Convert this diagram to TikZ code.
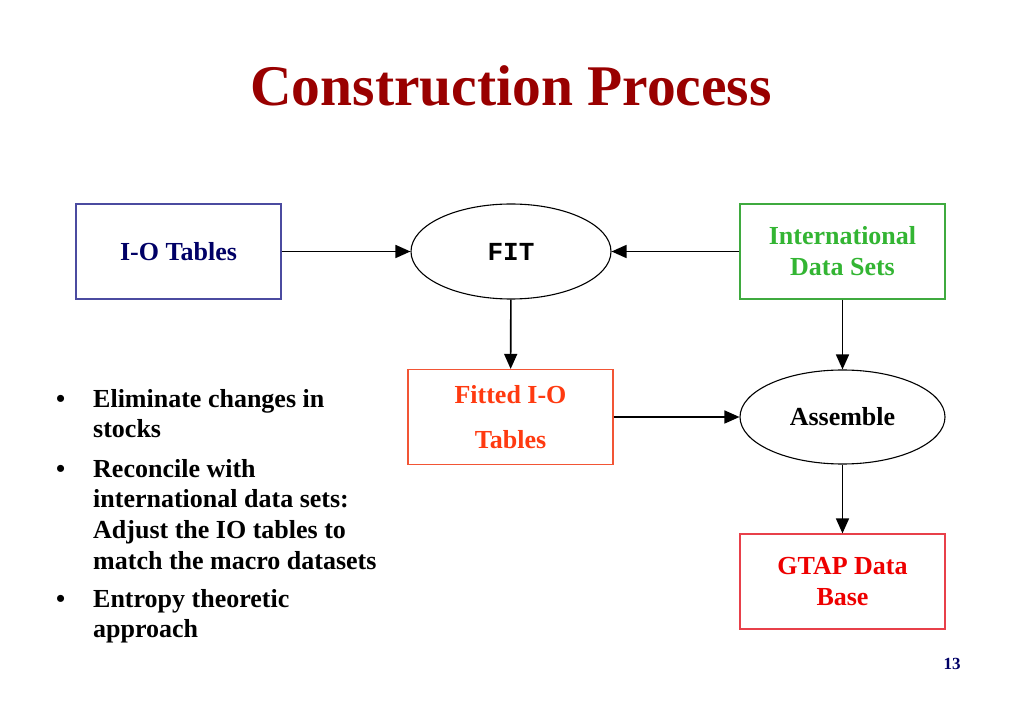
\documentclass[tikz,border=0pt]{standalone}
\usepackage{fontspec}
\setmainfont{Liberation Serif}
\setmonofont{Liberation Mono}
\usetikzlibrary{arrows.meta,shapes.geometric}
\definecolor{titlered}{HTML}{990000}
\definecolor{navytext}{HTML}{000066}
\definecolor{navyborder}{HTML}{4B4BA0}
\definecolor{greentext}{HTML}{33B533}
\definecolor{greenborder}{HTML}{3FAA3F}
\definecolor{orangetext}{HTML}{FF3A10}
\definecolor{orangeborder}{HTML}{F25535}
\definecolor{redtext}{HTML}{EE0000}
\definecolor{redborder}{HTML}{E8404A}
\tikzset{
  body/.style={font=\bfseries\fontsize{26}{31}\selectfont},
  boxnode/.style={body, draw, line width=1.2pt, minimum width=205pt, minimum height=95pt, inner sep=0pt, align=center},
  ellnode/.style={body, draw, ellipse, line width=1.1pt, minimum width=200pt, minimum height=95pt, inner sep=0pt, align=center},
  conn/.style={line width=1.6pt, -{Triangle[length=15pt,width=13pt]}},
  bullettext/.style={body, anchor=base west, inner sep=0pt},
}
\begin{document}
\begin{tikzpicture}[x=1pt,y=-1pt]
\useasboundingbox[fill=white] (0,0) rectangle (1023,708);
\node[font=\bfseries\fontsize{57.5}{60}\selectfont, text=titlered, anchor=base] (title) at (511,106) {Construction Process};

\node[boxnode, draw=navyborder, text=navytext] (io) at (178.5,251.5) {I-O Tables};
\node[ellnode, font=\ttfamily\bfseries\fontsize{26}{31}\selectfont] (fit) at (511,251.5) {FIT};
\node[boxnode, draw=greenborder, text=greentext] (intl) at (842.5,251.5) {International\\Data Sets};
\node[boxnode, draw=orangeborder, text=orangetext] (fitted) at (510.5,417) {Fitted I-O\\[14pt]Tables};
\node[ellnode, minimum width=205pt, minimum height=94pt] (asm) at (842.5,417) {Assemble};
\node[boxnode, draw=redborder, text=redtext] (gtap) at (842.5,581.5) {GTAP Data\\Base};

\draw[conn] (io) -- (fit);
\draw[conn] (intl) -- (fit);
\draw[conn] (fit) -- (fitted);
\draw[conn] (intl) -- (asm);
\draw[conn] (fitted) -- (asm);
\draw[conn] (asm) -- (gtap);

\node[bullettext] (b1) at (56,408) {•};
\node[bullettext] (t1a) at (93,408) {Eliminate changes in};
\node[bullettext] (t1b) at (93,438) {stocks};
\node[bullettext] (b2) at (56,477) {•};
\node[bullettext] (t2a) at (93,477) {Reconcile with};
\node[bullettext] (t2b) at (93,507) {international data sets:};
\node[bullettext] (t2c) at (93,538) {Adjust the IO tables to};
\node[bullettext] (t2d) at (93,569) {match the macro datasets};
\node[bullettext] (b3) at (56,607) {•};
\node[bullettext] (t3a) at (93,607) {Entropy theoretic};
\node[bullettext] (t3b) at (93,637) {approach};

\node[font=\bfseries\fontsize{17}{20}\selectfont, text=navytext, anchor=base] (pg) at (952,669) {13};
\end{tikzpicture}
\end{document}
